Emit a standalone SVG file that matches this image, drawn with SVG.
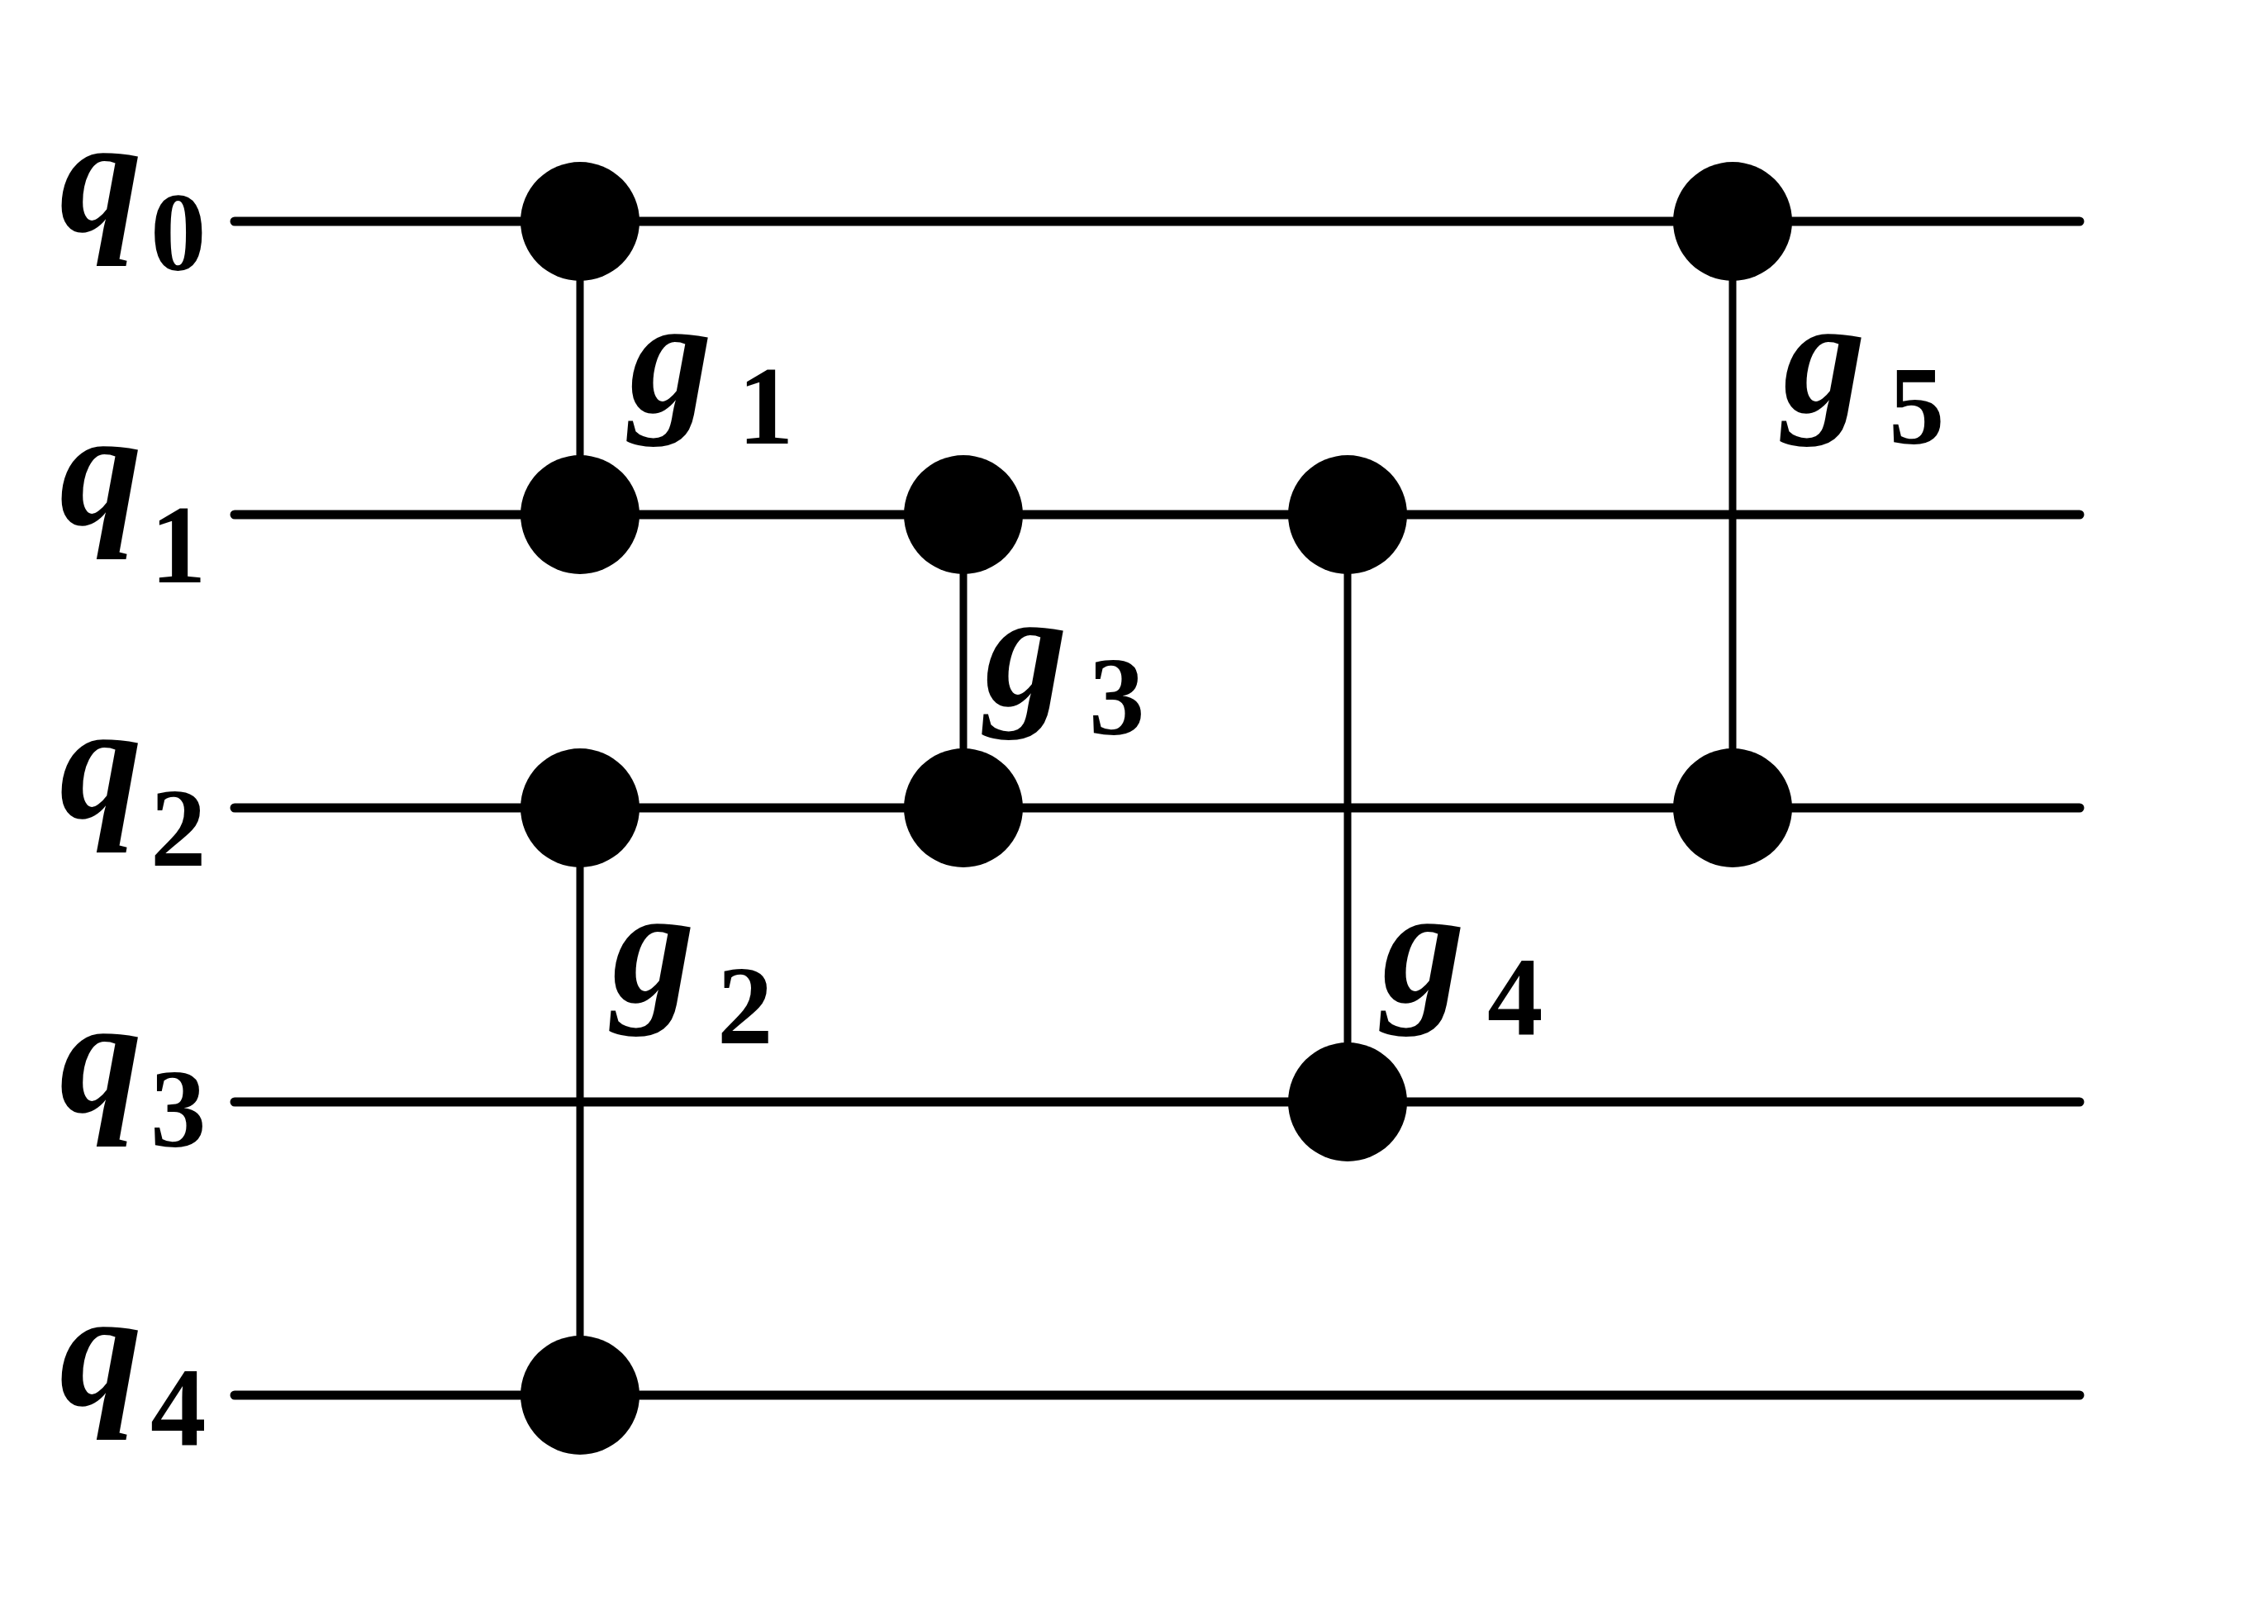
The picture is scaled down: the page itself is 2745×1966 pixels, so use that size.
<svg xmlns="http://www.w3.org/2000/svg" width="2745" height="1966" viewBox="0 0 2745 1966">
<style>
.w{stroke:#000;stroke-width:11;stroke-linecap:round}
.v{stroke:#000;stroke-width:9}
.d{fill:#000}
.t{font-family:"Liberation Serif","DejaVu Serif",serif;font-weight:bold;fill:#000}
.m{font-style:italic;font-size:200px}
.s{font-size:135px}
</style>
<rect width="2745" height="1966" fill="#fff"/>
<g id="wires">
<line class="w" x1="284" y1="268" x2="2517" y2="268"/>
<line class="w" x1="284" y1="623" x2="2517" y2="623"/>
<line class="w" x1="284" y1="978" x2="2517" y2="978"/>
<line class="w" x1="284" y1="1334" x2="2517" y2="1334"/>
<line class="w" x1="284" y1="1689" x2="2517" y2="1689"/>
</g>
<g id="connectors">
<line class="v" x1="702" y1="268" x2="702" y2="623"/>
<line class="v" x1="702" y1="978" x2="702" y2="1689"/>
<line class="v" x1="1166" y1="623" x2="1166" y2="978"/>
<line class="v" x1="1631" y1="623" x2="1631" y2="1334"/>
<line class="v" x1="2097" y1="268" x2="2097" y2="978"/>
</g>
<g id="g1"><circle class="d" cx="702" cy="268" r="72"/><circle class="d" cx="702" cy="623" r="72"/><text class="t" x="762" y="499"><tspan class="m">g</tspan><tspan class="s" x="893" y="537">1</tspan></text></g>
<g id="g2"><circle class="d" cx="702" cy="978" r="72"/><circle class="d" cx="702" cy="1689" r="72"/><text class="t" x="741" y="1213"><tspan class="m">g</tspan><tspan class="s" x="868" y="1263">2</tspan></text></g>
<g id="g3"><circle class="d" cx="1166" cy="623" r="72"/><circle class="d" cx="1166" cy="978" r="72"/><text class="t" x="1192" y="854"><tspan class="m">g</tspan><tspan class="s" x="1318" y="889">3</tspan></text></g>
<g id="g4"><circle class="d" cx="1631" cy="623" r="72"/><circle class="d" cx="1631" cy="1334" r="72"/><text class="t" x="1673" y="1213"><tspan class="m">g</tspan><tspan class="s" x="1800" y="1253">4</tspan></text></g>
<g id="g5"><circle class="d" cx="2097" cy="268" r="72"/><circle class="d" cx="2097" cy="978" r="72"/><text class="t" x="2158" y="499"><tspan class="m">g</tspan><tspan class="s" x="2286" y="537">5</tspan></text></g>
<g id="labels">
<text class="t" x="72" y="280"><tspan class="m">q</tspan><tspan class="s" x="182" y="327">0</tspan></text>
<text class="t" x="72" y="635"><tspan class="m">q</tspan><tspan class="s" x="182" y="705">1</tspan></text>
<text class="t" x="72" y="990"><tspan class="m">q</tspan><tspan class="s" x="182" y="1048">2</tspan></text>
<text class="t" x="72" y="1346"><tspan class="m">q</tspan><tspan class="s" x="182" y="1388">3</tspan></text>
<text class="t" x="72" y="1701"><tspan class="m">q</tspan><tspan class="s" x="182" y="1750">4</tspan></text>
</g>
</svg>
